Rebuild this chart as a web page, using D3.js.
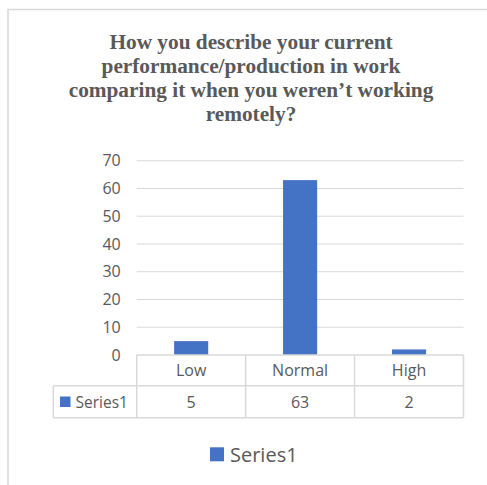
<!DOCTYPE html>
<html>
<head>
<meta charset="utf-8">
<script src="https://cdn.jsdelivr.net/npm/d3@7"></script>
<style>
  body { margin: 0; background: #fff; }
  svg { display: block; }
</style>
</head>
<body>
<div id="chart"></div>
<script>
// chart values
var titleLines = ["How you describe your current", "performance/production in work", "comparing it when you weren\u2019t working", "remotely?"];
var categories = ["Low", "Normal", "High"];
var values = [5, 63, 2];
var seriesName = "Series1";
var yTicks = [0, 10, 20, 30, 40, 50, 60, 70];

var svgWidth = 487, svgHeight = 485;
var textColor = "#595959";
var gridColor = "#d9d9d9";
var barColor = "#4472c4";
var sans = "'Open Sans', sans-serif";
var labelSize = "16px";

var svg = d3.select("#chart").append("svg")
    .attr("width", svgWidth)
    .attr("height", svgHeight);

// outer chart border (only top and left visible)
svg.append("path")
    .attr("d", "M8,490 L8,9.5 L490,9.5")
    .attr("fill", "none")
    .attr("stroke", gridColor)
    .attr("stroke-width", 1.5);

// title
svg.append("g").selectAll("text")
    .data(titleLines)
    .enter()
    .append("text")
    .attr("x", 251)
    .attr("y", (d, i) => 49 + i * 24)
    .attr("text-anchor", "middle")
    .style("font-family", "'Liberation Serif', 'Times New Roman', serif")
    .style("font-weight", "bold")
    .style("font-size", "21.3px")
    .style("fill", textColor)
    .text(d => d);

// scales
var plotLeft = 136.7, plotRight = 463.5, plotTop = 160.7, plotBottom = 355;
var y = d3.scaleLinear().domain([0, 70]).range([plotBottom, plotTop]);
var x = d3.scaleBand()
    .domain(categories)
    .range([plotLeft, plotRight])
    .paddingInner(0.687)
    .paddingOuter(0.3435);
var step = x.step();

// gridlines
svg.append("g").selectAll("line")
    .data(yTicks.slice(1))
    .enter()
    .append("line")
    .attr("x1", plotLeft)
    .attr("x2", plotRight)
    .attr("y1", d => y(d))
    .attr("y2", d => y(d))
    .attr("stroke", gridColor)
    .attr("stroke-width", 1);

// y axis labels
var yAxis = svg.append("g")
    .attr("transform", "translate(" + (plotLeft - 16) + ",0)")
    .call(d3.axisLeft(y).tickValues(yTicks).tickSize(0).tickPadding(0));
yAxis.select(".domain").remove();
yAxis.selectAll("text")
    .style("font-family", sans)
    .style("font-size", labelSize)
    .style("fill", textColor);

// bars
svg.append("g").selectAll("rect")
    .data(values)
    .enter()
    .append("rect")
    .attr("x", (d, i) => x(categories[i]))
    .attr("width", x.bandwidth())
    .attr("y", d => y(d))
    .attr("height", d => y(0) - y(d))
    .attr("fill", barColor);

// data table
var tableLeft = 53.3;
var row1Top = plotBottom, row2Top = 385.7, tableBottom = 417.7;
var colEdges = [plotLeft].concat(categories.map((c, i) => plotLeft + step * (i + 1)));
var table = svg.append("g")
    .attr("stroke", gridColor)
    .attr("stroke-width", 1.5);

// horizontal lines
table.append("line").attr("x1", plotLeft).attr("x2", plotRight).attr("y1", row1Top).attr("y2", row1Top);
table.append("line").attr("x1", tableLeft).attr("x2", plotRight).attr("y1", row2Top).attr("y2", row2Top);
table.append("line").attr("x1", tableLeft).attr("x2", plotRight).attr("y1", tableBottom).attr("y2", tableBottom);
// vertical lines
table.selectAll(".col")
    .data(colEdges)
    .enter()
    .append("line")
    .attr("x1", d => d).attr("x2", d => d)
    .attr("y1", row1Top).attr("y2", tableBottom);
table.append("line").attr("x1", tableLeft).attr("x2", tableLeft).attr("y1", row2Top).attr("y2", tableBottom);

// header labels
svg.append("g").selectAll("text")
    .data(categories)
    .enter()
    .append("text")
    .attr("x", d => x(d) + x.bandwidth() / 2)
    .attr("y", (row1Top + row2Top) / 2 + 6)
    .attr("text-anchor", "middle")
    .style("font-family", sans)
    .style("font-size", labelSize)
    .style("fill", textColor)
    .text(d => d);

// value row
svg.append("g").selectAll("text")
    .data(values)
    .enter()
    .append("text")
    .attr("x", (d, i) => x(categories[i]) + x.bandwidth() / 2)
    .attr("y", (row2Top + tableBottom) / 2 + 6)
    .attr("text-anchor", "middle")
    .style("font-family", sans)
    .style("font-size", labelSize)
    .style("fill", textColor)
    .text(d => d);

// row legend key
svg.append("rect")
    .attr("x", 60).attr("y", 396.5)
    .attr("width", 10.5).attr("height", 10.5)
    .attr("fill", barColor);
svg.append("text")
    .attr("x", 75.5)
    .attr("y", (row2Top + tableBottom) / 2 + 6)
    .style("font-family", sans)
    .style("font-size", "15.5px")
    .style("fill", textColor)
    .text(seriesName);

// bottom legend
svg.append("rect")
    .attr("x", 210).attr("y", 447.3)
    .attr("width", 14).attr("height", 14)
    .attr("fill", barColor);
svg.append("text")
    .attr("x", 230)
    .attr("y", 461.5)
    .style("font-family", sans)
    .style("font-size", "20px")
    .style("fill", textColor)
    .text(seriesName);
</script>
</body>
</html>
